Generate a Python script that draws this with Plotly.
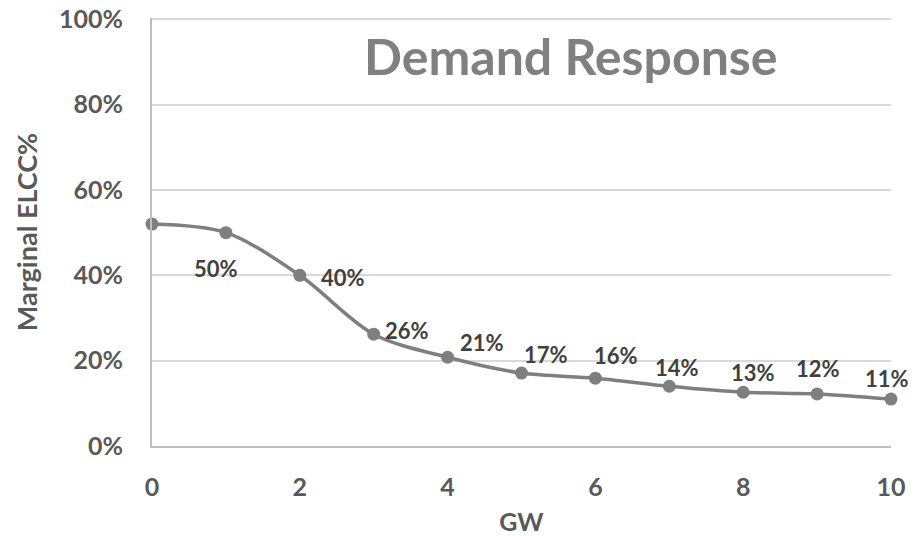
import plotly.graph_objects as go

# Data
gw = [0, 1, 2, 3, 4, 5, 6, 7, 8, 9, 10]
elcc = [0.52, 0.50, 0.40, 0.262, 0.208, 0.171, 0.159, 0.14, 0.126, 0.122, 0.11]
point_labels = ["", "50%", "40%", "26%", "21%", "17%", "16%", "14%", "13%", "12%", "11%"]
chart_title = "Demand Response"
x_title = "GW"
y_title = "Marginal ELCC%"

# label offsets (pixels)
label_dx = [0, -10, 43, 33, 34, 24, 21, 8, 10, 1, -4]
label_dy = [0, -36, -2, 4, 15, 19, 23, 19, 20, 25, 21]

FONT = "Lato"
LINE_COLOR = "#7f7f7f"
TEXT_COLOR = "#595959"

fig = go.Figure()
fig.add_trace(go.Scatter(
    x=gw, y=elcc, mode="lines+markers",
    line=dict(color=LINE_COLOR, width=3.5, shape="spline", smoothing=0.9),
    marker=dict(color=LINE_COLOR, size=13),
    cliponaxis=False, showlegend=False, hoverinfo="x+y",
))

for x, y, t, dx, dy in zip(gw, elcc, point_labels, label_dx, label_dy):
    if t:
        fig.add_annotation(x=x, y=y, text=t, showarrow=False,
                           xshift=dx, yshift=dy,
                           font=dict(family=FONT, size=22, color="#404040", weight="bold"))

fig.add_annotation(x=0.567, y=0.911, xref="paper", yref="paper", text=chart_title,
                   showarrow=False, xanchor="center", yanchor="middle",
                   font=dict(family=FONT, size=50, color="#808080", weight="bold"))

fig.update_xaxes(
    range=[0, 10], dtick=2, tick0=0,
    showgrid=False, zeroline=False, automargin=False,
    showline=True, linecolor="#bfbfbf", linewidth=2,
    ticks="", ticklabelstandoff=18, ticklabeloverflow="allow",
    tickfont=dict(family=FONT, size=25, color=TEXT_COLOR, weight="bold"),
    title=dict(text=x_title, standoff=16,
               font=dict(family=FONT, size=25, color=TEXT_COLOR, weight="bold")),
)
fig.update_yaxes(
    range=[0, 1.003], dtick=0.2, tickformat=".0%",
    showgrid=True, gridcolor="#d9d9d9", gridwidth=1.5,
    zeroline=False, automargin=False,
    showline=True, linecolor="#bfbfbf", linewidth=2,
    ticks="", ticklabelstandoff=22, ticklabeloverflow="allow",
    tickfont=dict(family=FONT, size=25, color=TEXT_COLOR, weight="bold"),
    title=dict(text=y_title, standoff=14,
               font=dict(family=FONT, size=27, color=TEXT_COLOR, weight="bold")),
)

fig.update_layout(
    width=923, height=536,
    margin=dict(l=152, r=32, t=18, b=90),
    paper_bgcolor="white", plot_bgcolor="white",
)

# remove the browser's default 8px body margin so the figure fills the window
fig.write_html("out.html",
               config={"displayModeBar": False},
               post_script="document.body.style.margin='0';document.body.style.overflow='hidden';")
